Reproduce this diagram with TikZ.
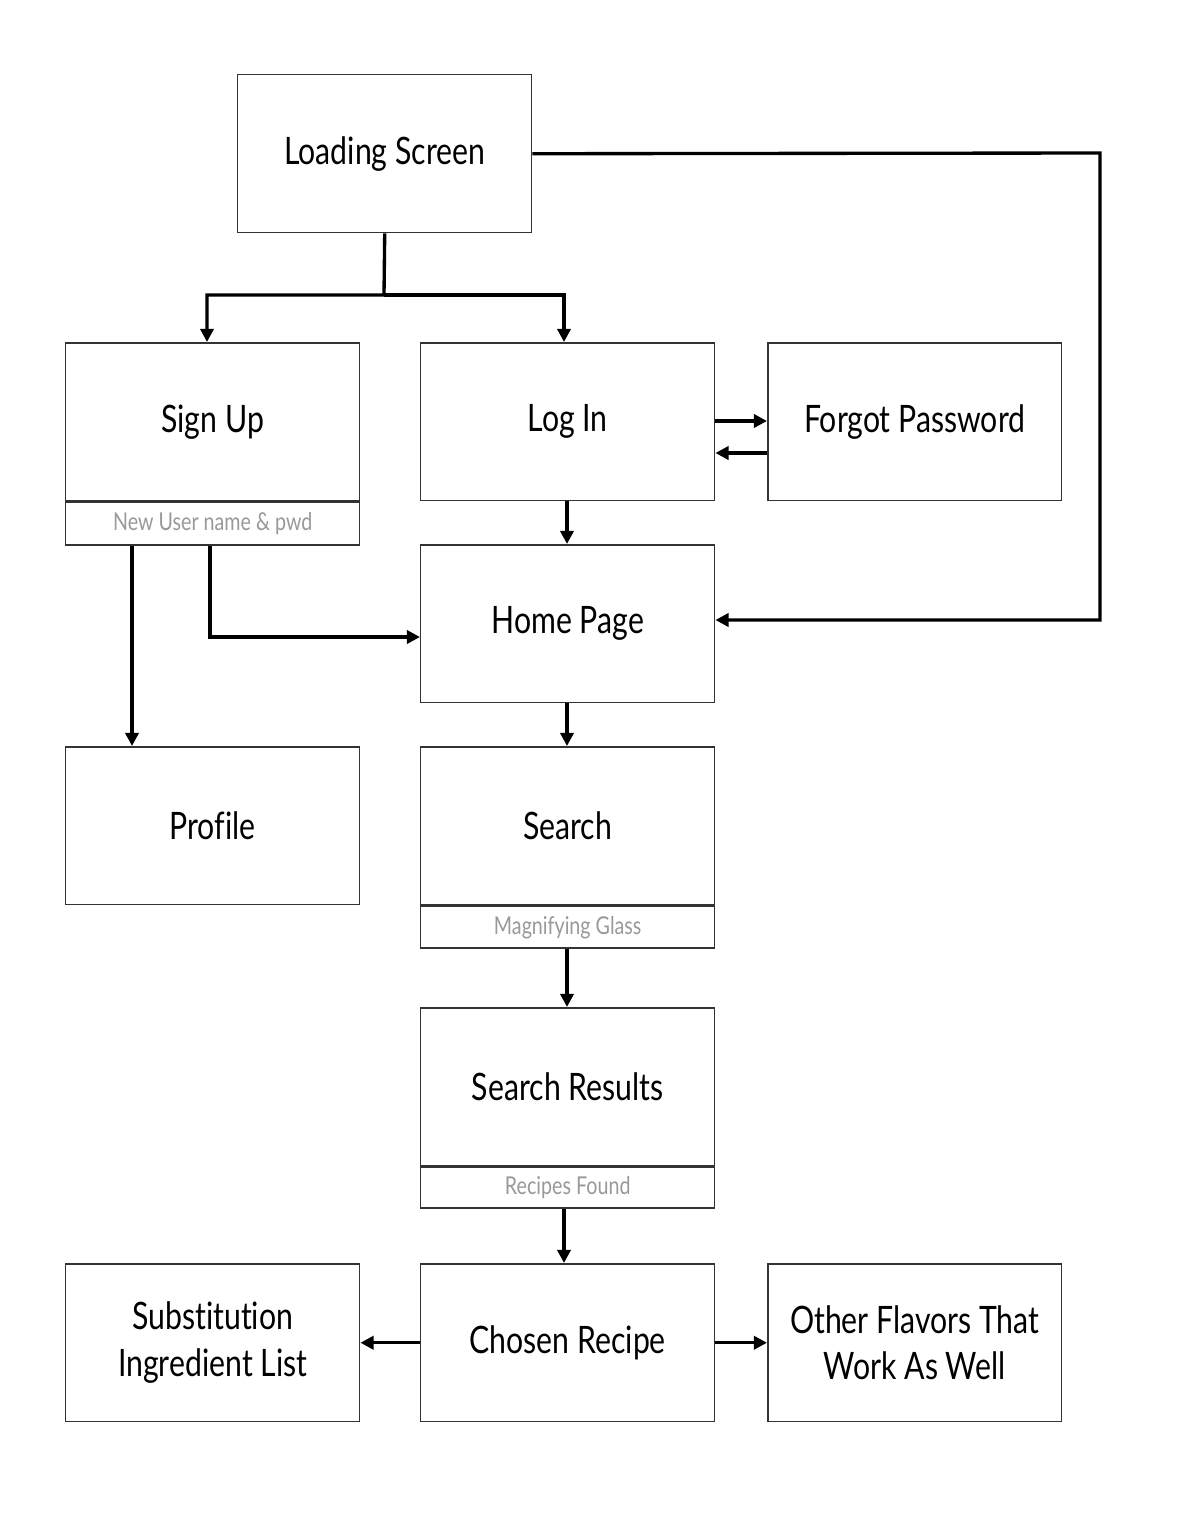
\documentclass[tikz,border=0pt]{standalone}
\usepackage{fontspec}
\setmainfont{Lato}[FakeStretch=0.8, Ligatures={NoCommon}]
\usetikzlibrary{arrows.meta,calc}
\definecolor{boxline}{HTML}{333333}
\definecolor{subtext}{HTML}{999999}
\tikzset{
  box/.style={draw=boxline, line width=0.85pt, fill=white, minimum width=5.88cm, minimum height=3.16cm, inner sep=0pt, align=center, anchor=north west, font=\fontsize{21.5}{26.5}\selectfont},
  strip/.style={draw=boxline, line width=0.85pt, minimum width=5.88cm, minimum height=0.86cm, inner sep=0pt, anchor=north, text=subtext, font=\fontsize{14}{16}\selectfont},
  link/.style={line width=1.9pt, black, line join=miter},
  arr/.style={link, -{Triangle[length=7.5pt,width=7.5pt]}}
}
\begin{document}
\begin{tikzpicture}[x=0.02cm,y=-0.02cm]
\useasboundingbox[fill=white] (0,0) rectangle (1200,1532);
% boxes
\node[box] (load) at (237,74) {Loading Screen};
\node[box] (su) at (65,342) {Sign Up};
\node[strip] (sus) at (su.south) {New User name \& pwd};
\node[box] (li) at (420,342) {Log In};
\node[box] (fp) at (767,342) {Forgot Password};
\node[box] (home) at (420,544) {Home Page};
\node[box] (prof) at (65,746) {Profile};
\node[box] (se) at (420,746) {Search};
\node[strip, minimum height=0.84cm] (ses) at (se.south) {Magnifying Glass};
\node[box] (sr) at (420,1007) {Search Results};
\node[strip, minimum height=0.82cm] (srs) at (sr.south) {Recipes Found};
\node[box] (sub) at (65,1263) {Substitution\\Ingredient List};
\node[box] (cr) at (420,1263) {Chosen Recipe};
\node[box] (oth) at (767,1263) {Other Flavors That\\Work As Well};
% connectors
\coordinate (j) at (384,295);
\draw[arr] (load.south) -- (j) -| (su.north -| 207,0);
\draw[arr] (j) -| (li.north -| 564,0);
\draw[arr] (load.east) -- (1100,153) |- (home.east |- 0,620);
\draw[arr] (li.east |- 0,421) -- (fp.west |- 0,421);
\draw[arr] (fp.west |- 0,453) -- (li.east |- 0,453);
\draw[arr] (li.south -| 567,0) -- (home.north -| 567,0);
\draw[arr] (sus.south -| 132,0) -- (prof.north -| 132,0);
\draw[arr] (sus.south -| 210,0) |- (home.west |- 0,637);
\draw[arr] (home.south -| 567,0) -- (se.north -| 567,0);
\draw[arr] (ses.south -| 567,0) -- (sr.north -| 567,0);
\draw[arr] (srs.south -| 564,0) -- (cr.north -| 564,0);
\draw[arr] (cr.west) -- (sub.east);
\draw[arr] (cr.east) -- (oth.west);
\end{tikzpicture}
\end{document}
